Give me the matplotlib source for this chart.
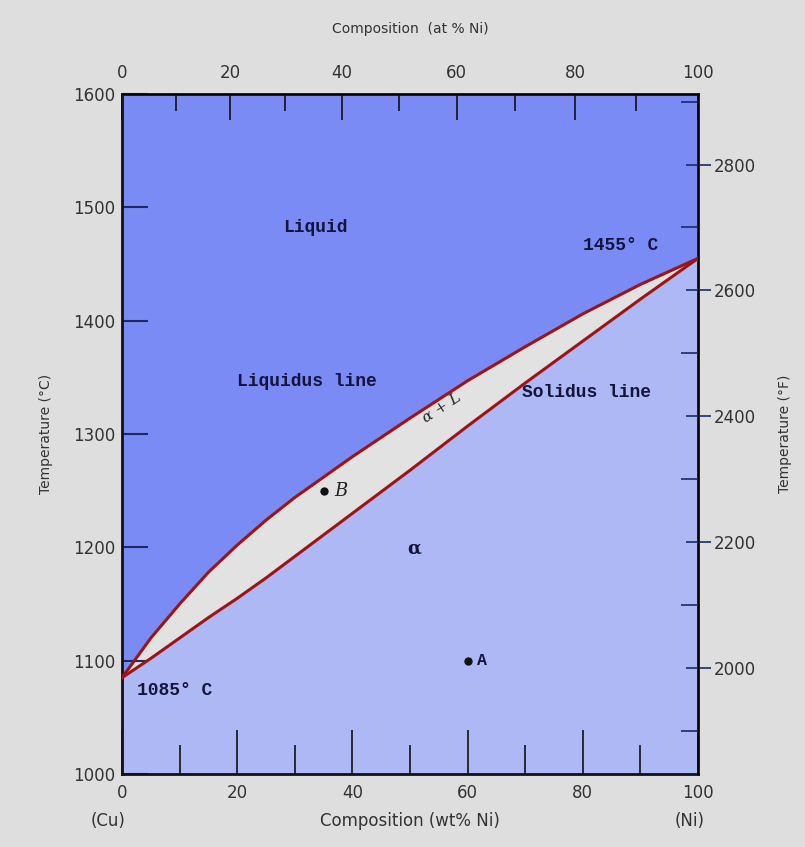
import numpy as np
import matplotlib.pyplot as plt

# Cu-Ni phase diagram
wt_ni = [0, 5, 10, 15, 20, 25, 30, 40, 50, 60, 70, 80, 90, 100]
liquidus = [1085, 1120, 1150, 1178, 1202, 1224, 1244, 1280, 1314, 1347, 1377, 1406, 1432, 1455]
solidus = [1085, 1102, 1120, 1138, 1155, 1173, 1192, 1230, 1268, 1307, 1345, 1382, 1419, 1455]

point_A = (60, 1100)
point_B = (35, 1250)

c_ticks = [1000, 1100, 1200, 1300, 1400, 1500, 1600]
f_ticks = [2000, 2200, 2400, 2600, 2800]
wt_ticks = [0, 20, 40, 60, 80, 100]
at_ticks = [0, 20, 40, 60, 80, 100]

M_NI, M_CU = 58.69, 63.55


def at_to_wt(a):
    a = np.asarray(a, dtype=float)
    with np.errstate(divide='ignore', invalid='ignore'):
        return 100 * a * M_NI / (a * M_NI + (100 - a) * M_CU)


def wt_to_at(w):
    w = np.asarray(w, dtype=float)
    with np.errstate(divide='ignore', invalid='ignore'):
        return 100 * (w / M_NI) / (w / M_NI + (100 - w) / M_CU)


def c_to_f(c):
    return np.asarray(c, dtype=float) * 9 / 5 + 32


def f_to_c(f):
    return (np.asarray(f, dtype=float) - 32) * 5 / 9


liquid_col = '#7a8bf6'
alpha_col = '#adb8f5'
mix_col = '#e2e2e2'
line_col = '#9e1414'
txt_col = '#14143c'
lab_col = '#333333'

fig = plt.figure(figsize=(8.05, 8.47), dpi=100, facecolor='#dedede')
ax = fig.add_axes([0.1516, 0.0862, 0.7155, 0.8028])

ax.fill_between(wt_ni, liquidus, 1600, color=liquid_col, lw=0)
ax.fill_between(wt_ni, solidus, liquidus, color=mix_col, lw=0)
ax.fill_between(wt_ni, 1000, solidus, color=alpha_col, lw=0)
ax.plot(wt_ni, liquidus, color=line_col, lw=2.2, zorder=3)
ax.plot(wt_ni, solidus, color=line_col, lw=2.2, zorder=3)

ax.set_xlim(0, 100)
ax.set_ylim(1000, 1600)

for s in ax.spines.values():
    s.set_linewidth(2)
    s.set_color('#111111')

# bottom: wt% Ni
ax.set_xticks(wt_ticks)
ax.set_xticks([10, 30, 50, 70, 90], minor=True)
ax.tick_params(axis='x', which='major', direction='in', length=32, width=1.2,
               color='#111111', labelsize=12, labelcolor=lab_col, pad=7)
ax.tick_params(axis='x', which='minor', direction='in', length=21, width=1.2, color='#111111')

# left: deg C
ax.set_yticks(c_ticks)
ax.tick_params(axis='y', which='major', direction='in', length=19, width=1.5,
               color='#1a2a6a', labelsize=12, labelcolor=lab_col, pad=5)
ax.set_ylabel('Temperature (°C)', fontsize=10, color=lab_col, labelpad=14)

ax.text(0.5, -0.069, 'Composition (wt% Ni)', transform=ax.transAxes, ha='center',
        va='center', fontsize=12, color=lab_col)
ax.text(-0.025, -0.069, '(Cu)', transform=ax.transAxes, ha='center', va='center',
        fontsize=12, color=lab_col)
ax.text(0.985, -0.069, '(Ni)', transform=ax.transAxes, ha='center', va='center',
        fontsize=12, color=lab_col)

# top: at% Ni
top = ax.secondary_xaxis('top', functions=(wt_to_at, at_to_wt))
top.set_zorder(5)
top.set_xticks(at_ticks)
top.set_xticks([10, 30, 50, 70, 90], minor=True)
top.tick_params(which='major', direction='in', length=19, width=1.2, color='#111111',
                labelsize=12, labelcolor=lab_col, pad=9)
top.tick_params(which='minor', direction='in', length=12, width=1.2, color='#111111')
top.set_xlabel('Composition  (at % Ni)', fontsize=10, color=lab_col, labelpad=22)

# right: deg F
right = ax.secondary_yaxis('right', functions=(c_to_f, f_to_c))
right.set_zorder(5)
right.set_yticks(f_ticks)
right.set_yticks([1900, 2100, 2300, 2500, 2700, 2900], minor=True)
right.tick_params(which='major', direction='inout', length=18, width=1.2, color='#1a2a6a',
                  labelsize=12, labelcolor=lab_col, pad=2)
right.tick_params(which='minor', direction='in', length=12, width=1.2, color='#1a2a6a')
right.set_ylabel('Temperature (°F)', fontsize=10, color=lab_col, labelpad=16)

# region and point labels
mono = dict(family='Liberation Mono', weight='bold', color=txt_col, fontsize=13)
ax.text(28, 1482, 'Liquid', ha='left', va='center', **mono)
ax.text(20, 1346, 'Liquidus line', ha='left', va='center', **mono)
ax.text(69.5, 1337, 'Solidus line', ha='left', va='center', **mono)
ax.text(80, 1466, '1455° C', ha='left', va='center', **mono)
ax.text(2.6, 1074, '1085° C', ha='left', va='center', **mono)
ax.text(50.7, 1199, 'α', ha='center', va='center', family='DejaVu Serif',
        weight='bold', fontsize=13, color=txt_col)
ax.text(55.5, 1323, 'α + L', ha='center', va='center', rotation=33,
        family='DejaVu Serif', style='italic', fontsize=11, color='#222222')

ax.plot(*point_A, 'o', color='#111111', ms=5, zorder=4)
ax.plot(*point_B, 'o', color='#111111', ms=5, zorder=4)
ax.text(point_A[0] + 1.6, point_A[1], 'A', ha='left', va='center',
        family='Liberation Mono', weight='bold', fontsize=12, color=txt_col)
ax.text(point_B[0] + 1.8, point_B[1], 'B', ha='left', va='center',
        family='DejaVu Serif', style='italic', fontsize=13, color='#222222')

fig.savefig('out.png', dpi=100, facecolor=fig.get_facecolor())
